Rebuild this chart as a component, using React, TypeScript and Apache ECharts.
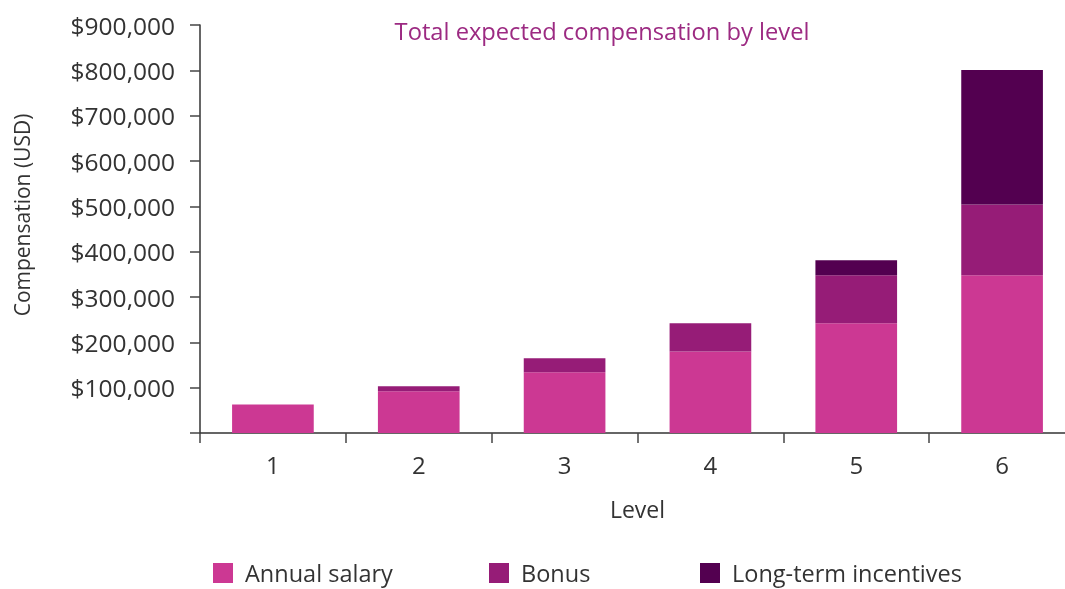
import React, { useEffect, useRef } from "react";
import * as echarts from "echarts";

const levels = ["1", "2", "3", "4", "5", "6"];
const annualSalary = [63000, 92000, 134000, 180000, 242000, 348000];
const bonus = [0, 11000, 31000, 62000, 106000, 156000];
const longTermIncentives = [0, 0, 0, 0, 33000, 297000];
const yTicks = [0, 100000, 200000, 300000, 400000, 500000, 600000, 700000, 800000, 900000];

const FONT = "'Open Sans', sans-serif";
const TEXT = "#333333";
const COLORS = ["#CC3893", "#961C77", "#530050"];

export default function App() {
  const ref = useRef<HTMLDivElement>(null);
  useEffect(() => {
    if (!ref.current) return;
    const chart = echarts.init(ref.current, undefined, { renderer: "svg" });
    const fmt = (v: number) => (v === 0 ? "" : "$" + v.toLocaleString("en-US"));
    const legendBase = {
      top: 556,
      itemWidth: 20,
      itemHeight: 20,
      itemGap: 10,
      textStyle: { fontFamily: FONT, fontSize: 23.5, color: TEXT, padding: [0, 0, 0, 7] },
      icon: "rect",
      selectedMode: false as const,
    };
    chart.setOption({
      animation: false,
      title: {
        text: "Total expected compensation by level",
        left: 597,
        textAlign: "center",
        top: 14,
        textStyle: { fontFamily: FONT, fontSize: 23.7, fontWeight: "normal", color: "#9C2A82" },
      },
      legend: [
        { ...legendBase, left: 208, data: ["Annual salary"] },
        { ...legendBase, left: 484, data: ["Bonus"] },
        { ...legendBase, left: 695, data: ["Long-term incentives"] },
      ],
      graphic: [
        {
          type: "text",
          x: 22,
          y: 215,
          rotation: Math.PI / 2,
          style: {
            text: "Compensation (USD)",
            fontFamily: FONT,
            fontSize: 21,
            fill: TEXT,
            align: "center",
            verticalAlign: "middle",
          },
        },
      ],
      grid: { left: 200, top: 25, width: 875, height: 408, containLabel: false },
      xAxis: {
        type: "category",
        data: levels,
        name: "Level",
        nameLocation: "middle",
        nameGap: 64,
        nameTextStyle: { fontFamily: FONT, fontSize: 23, color: TEXT },
        axisLine: { lineStyle: { color: "#333", width: 1.5 } },
        axisTick: { show: true, length: 10, lineStyle: { color: "#444", width: 1.5 } },
        axisLabel: { fontFamily: FONT, fontSize: 24, color: TEXT, margin: 19 },
      },
      yAxis: {
        type: "value",
        min: yTicks[0],
        max: yTicks[yTicks.length - 1],
        interval: 100000,
        axisLine: { show: true, lineStyle: { color: "#333", width: 1.5 } },
        axisTick: { show: true, length: 10, lineStyle: { color: "#444", width: 1.5 } },
        splitLine: { show: false },
        axisLabel: { fontFamily: FONT, fontSize: 24.5, color: TEXT, margin: 25, formatter: fmt },
      },
      series: [
        { name: "Annual salary", type: "bar", stack: "t", data: annualSalary, barWidth: "56%", itemStyle: { color: COLORS[0] } },
        { name: "Bonus", type: "bar", stack: "t", data: bonus, barWidth: "56%", itemStyle: { color: COLORS[1] } },
        { name: "Long-term incentives", type: "bar", stack: "t", data: longTermIncentives, barWidth: "56%", itemStyle: { color: COLORS[2] } },
      ],
    });
    return () => chart.dispose();
  }, []);
  return (
    <div style={{ position: "fixed", left: 0, top: 0, width: 1065, height: 589, overflow: "hidden" }}>
      <div ref={ref} style={{ position: "absolute", left: 0, top: 0, width: 1080, height: 589 }} />
    </div>
  );
}
